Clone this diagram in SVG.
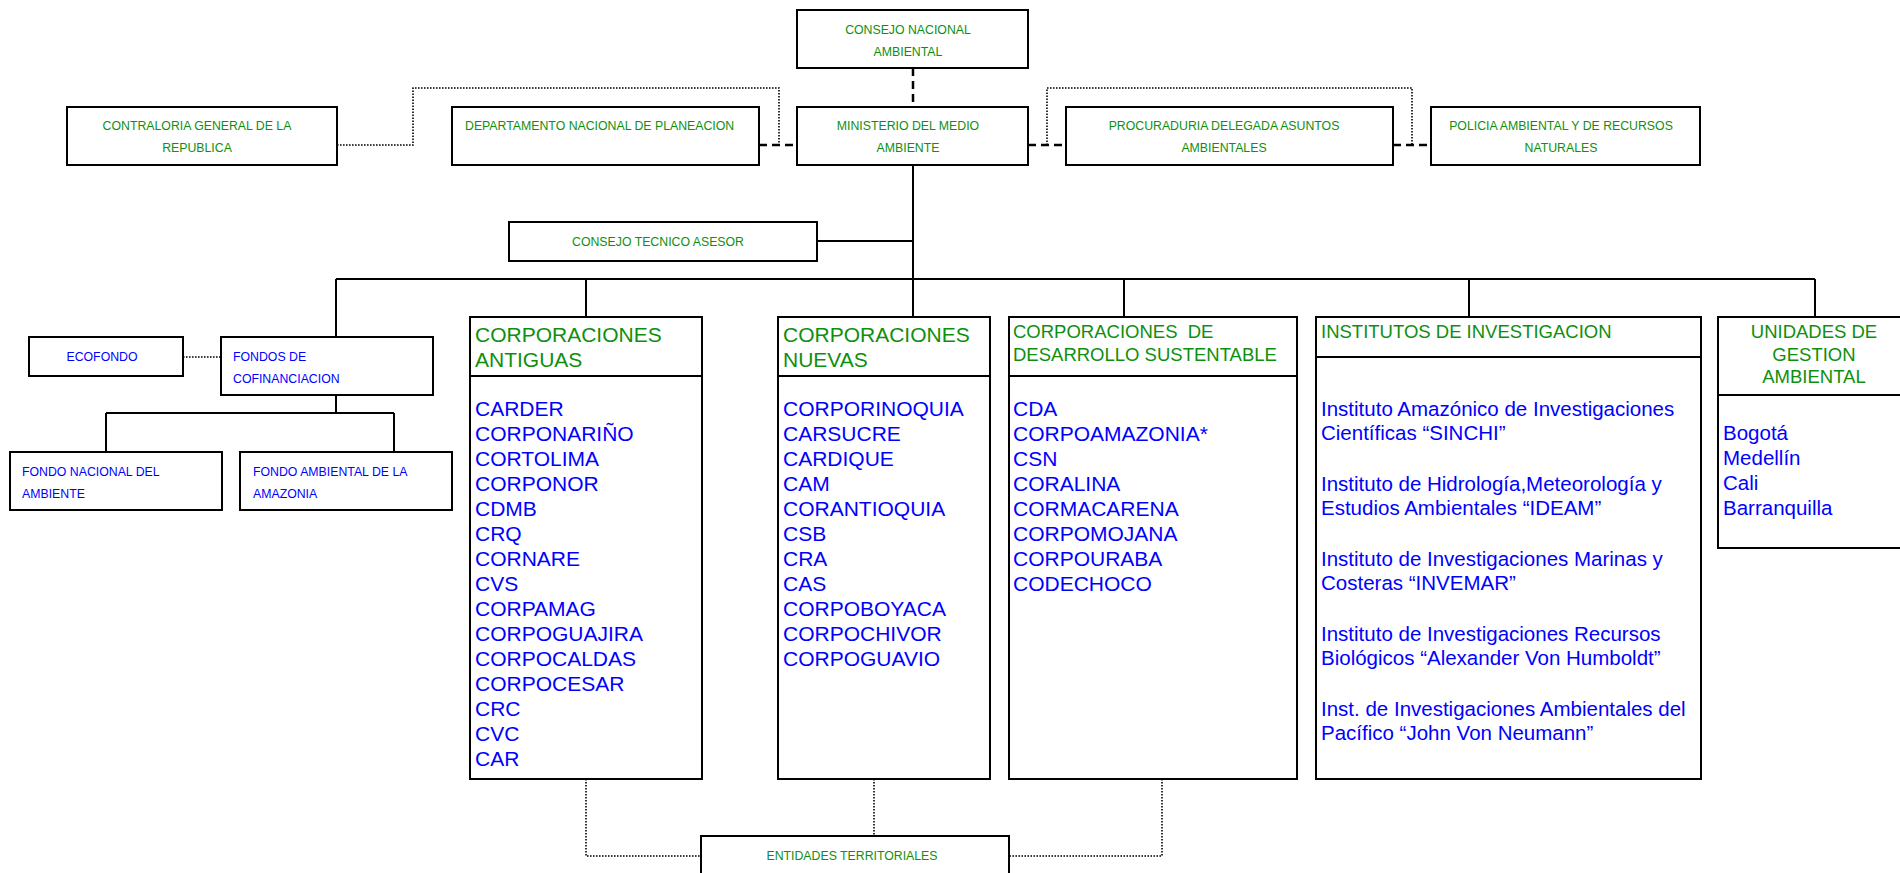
<svg xmlns="http://www.w3.org/2000/svg" width="1900" height="873" viewBox="0 0 1900 873">
<style>
.box{fill:#fff;stroke:#000;stroke-width:2}
.ln{stroke:#000;stroke-width:2;fill:none}
.dash{stroke:#000;stroke-width:2.5;stroke-dasharray:8 5;fill:none}
.dot{stroke:#000;stroke-width:1.6;stroke-dasharray:1.6 1.4;fill:none}
text{font-family:"Liberation Sans",Arial,Helvetica,sans-serif}
.s{font-size:12.3px}
.H{font-size:18.5px}
.L{font-size:21px}
.I{font-size:20.5px}
.g{fill:#0e8f0e}
.b{fill:#0000ff}
.c{text-anchor:middle}
</style>
<rect width="1900" height="873" fill="#fff"/>
<g id="connectors">
<path class="ln" d="M913,165 V279 M817,241 H913 M336,279 H1815 M336,279 V337 M586,279 V317 M913,279 V317 M1124,279 V317 M1469,279 V317 M1815,279 V317 M336,395 V413 M106,413 H394 M106,413 V452 M394,413 V452"/>
<path class="dash" d="M913,68 V107 M759,145 H797 M1028,145 H1066 M1393,145 H1431"/>
<path class="dot" d="M337,145 H413 V88 H779 V145 M1047,145 V88 H1412 V145 M183,357 H221 M586,779 V856 H701 M874,779 V836 M1162,779 V856 H1009"/>
</g>
<g id="consejo-nacional">
<rect class="box" x="797" y="10" width="231" height="58"/>
<text class="s g c" x="908" y="34">CONSEJO NACIONAL</text>
<text class="s g c" x="908" y="56">AMBIENTAL</text>
</g>
<g id="contraloria">
<rect class="box" x="67" y="107" width="270" height="58"/>
<text class="s g c" x="197" y="130">CONTRALORIA GENERAL DE LA</text>
<text class="s g c" x="197" y="152">REPUBLICA</text>
</g>
<g id="dnp">
<rect class="box" x="452" y="107" width="307" height="58"/>
<text class="s g" x="465" y="130">DEPARTAMENTO NACIONAL DE PLANEACION</text>
</g>
<g id="ministerio">
<rect class="box" x="797" y="107" width="231" height="58"/>
<text class="s g c" x="908" y="130">MINISTERIO DEL MEDIO</text>
<text class="s g c" x="908" y="152">AMBIENTE</text>
</g>
<g id="procuraduria">
<rect class="box" x="1066" y="107" width="327" height="58"/>
<text class="s g c" x="1224" y="130">PROCURADURIA DELEGADA ASUNTOS</text>
<text class="s g c" x="1224" y="152">AMBIENTALES</text>
</g>
<g id="policia">
<rect class="box" x="1431" y="107" width="269" height="58"/>
<text class="s g c" x="1561" y="130">POLICIA AMBIENTAL Y DE RECURSOS</text>
<text class="s g c" x="1561" y="152">NATURALES</text>
</g>
<g id="consejo-tecnico">
<rect class="box" x="509" y="222" width="308" height="39"/>
<text class="s g c" x="658" y="246">CONSEJO TECNICO ASESOR</text>
</g>
<g id="ecofondo">
<rect class="box" x="29" y="337" width="154" height="39"/>
<text class="s b c" x="102" y="361">ECOFONDO</text>
</g>
<g id="fondos">
<rect class="box" x="221" y="337" width="212" height="58"/>
<text class="s b" x="233" y="361">FONDOS DE</text>
<text class="s b" x="233" y="383">COFINANCIACION</text>
</g>
<g id="fondo-nacional">
<rect class="box" x="10" y="452" width="212" height="58"/>
<text class="s b" x="22" y="476">FONDO NACIONAL DEL</text>
<text class="s b" x="22" y="498">AMBIENTE</text>
</g>
<g id="fondo-amazonia">
<rect class="box" x="240" y="452" width="212" height="58"/>
<text class="s b" x="253" y="476">FONDO AMBIENTAL DE LA</text>
<text class="s b" x="253" y="498">AMAZONIA</text>
</g>
<g id="antiguas">
<rect class="box" x="470" y="317" width="232" height="462"/>
<line class="ln" x1="470" y1="376" x2="702" y2="376"/>
<text class="L g" x="475" y="342">CORPORACIONES</text>
<text class="L g" x="475" y="367">ANTIGUAS</text>
<text class="L b" x="475" y="416">CARDER</text>
<text class="L b" x="475" y="441">CORPONARIÑO</text>
<text class="L b" x="475" y="466">CORTOLIMA</text>
<text class="L b" x="475" y="491">CORPONOR</text>
<text class="L b" x="475" y="516">CDMB</text>
<text class="L b" x="475" y="541">CRQ</text>
<text class="L b" x="475" y="566">CORNARE</text>
<text class="L b" x="475" y="591">CVS</text>
<text class="L b" x="475" y="616">CORPAMAG</text>
<text class="L b" x="475" y="641">CORPOGUAJIRA</text>
<text class="L b" x="475" y="666">CORPOCALDAS</text>
<text class="L b" x="475" y="691">CORPOCESAR</text>
<text class="L b" x="475" y="716">CRC</text>
<text class="L b" x="475" y="741">CVC</text>
<text class="L b" x="475" y="766">CAR</text>
</g>
<g id="nuevas">
<rect class="box" x="778" y="317" width="212" height="462"/>
<line class="ln" x1="778" y1="376" x2="990" y2="376"/>
<text class="L g" x="783" y="342">CORPORACIONES</text>
<text class="L g" x="783" y="367">NUEVAS</text>
<text class="L b" x="783" y="416">CORPORINOQUIA</text>
<text class="L b" x="783" y="441">CARSUCRE</text>
<text class="L b" x="783" y="466">CARDIQUE</text>
<text class="L b" x="783" y="491">CAM</text>
<text class="L b" x="783" y="516">CORANTIOQUIA</text>
<text class="L b" x="783" y="541">CSB</text>
<text class="L b" x="783" y="566">CRA</text>
<text class="L b" x="783" y="591">CAS</text>
<text class="L b" x="783" y="616">CORPOBOYACA</text>
<text class="L b" x="783" y="641">CORPOCHIVOR</text>
<text class="L b" x="783" y="666">CORPOGUAVIO</text>
</g>
<g id="desarrollo">
<rect class="box" x="1009" y="317" width="288" height="462"/>
<line class="ln" x1="1009" y1="376" x2="1297" y2="376"/>
<text class="H g" x="1013" y="338" xml:space="preserve">CORPORACIONES  DE</text>
<text class="H g" x="1013" y="361">DESARROLLO SUSTENTABLE</text>
<text class="L b" x="1013" y="416">CDA</text>
<text class="L b" x="1013" y="441">CORPOAMAZONIA*</text>
<text class="L b" x="1013" y="466">CSN</text>
<text class="L b" x="1013" y="491">CORALINA</text>
<text class="L b" x="1013" y="516">CORMACARENA</text>
<text class="L b" x="1013" y="541">CORPOMOJANA</text>
<text class="L b" x="1013" y="566">CORPOURABA</text>
<text class="L b" x="1013" y="591">CODECHOCO</text>
</g>
<g id="institutos">
<rect class="box" x="1316" y="317" width="385" height="462"/>
<line class="ln" x1="1316" y1="357" x2="1701" y2="357"/>
<text class="H g" x="1321" y="338">INSTITUTOS DE INVESTIGACION</text>
<text class="I b" x="1321" y="416">Instituto Amazónico de Investigaciones</text>
<text class="I b" x="1321" y="440">Científicas “SINCHI”</text>
<text class="I b" x="1321" y="491">Instituto de Hidrología,Meteorología y</text>
<text class="I b" x="1321" y="515">Estudios Ambientales “IDEAM”</text>
<text class="I b" x="1321" y="566">Instituto de Investigaciones Marinas y</text>
<text class="I b" x="1321" y="590">Costeras “INVEMAR”</text>
<text class="I b" x="1321" y="641">Instituto de Investigaciones Recursos</text>
<text class="I b" x="1321" y="665">Biológicos “Alexander Von Humboldt”</text>
<text class="I b" x="1321" y="716">Inst. de Investigaciones Ambientales del</text>
<text class="I b" x="1321" y="740">Pacífico “John Von Neumann”</text>
</g>
<g id="unidades">
<rect class="box" x="1718" y="317" width="192" height="231"/>
<line class="ln" x1="1718" y1="395" x2="1910" y2="395"/>
<text class="H g c" x="1814" y="338">UNIDADES DE</text>
<text class="H g c" x="1814" y="361">GESTION</text>
<text class="H g c" x="1814" y="383">AMBIENTAL</text>
<text class="I b" x="1723" y="440">Bogotá</text>
<text class="I b" x="1723" y="465">Medellín</text>
<text class="I b" x="1723" y="490">Cali</text>
<text class="I b" x="1723" y="515">Barranquilla</text>
</g>
<g id="entidades">
<rect class="box" x="701" y="836" width="308" height="50"/>
<text class="s g c" x="852" y="860">ENTIDADES TERRITORIALES</text>
</g>
</svg>
